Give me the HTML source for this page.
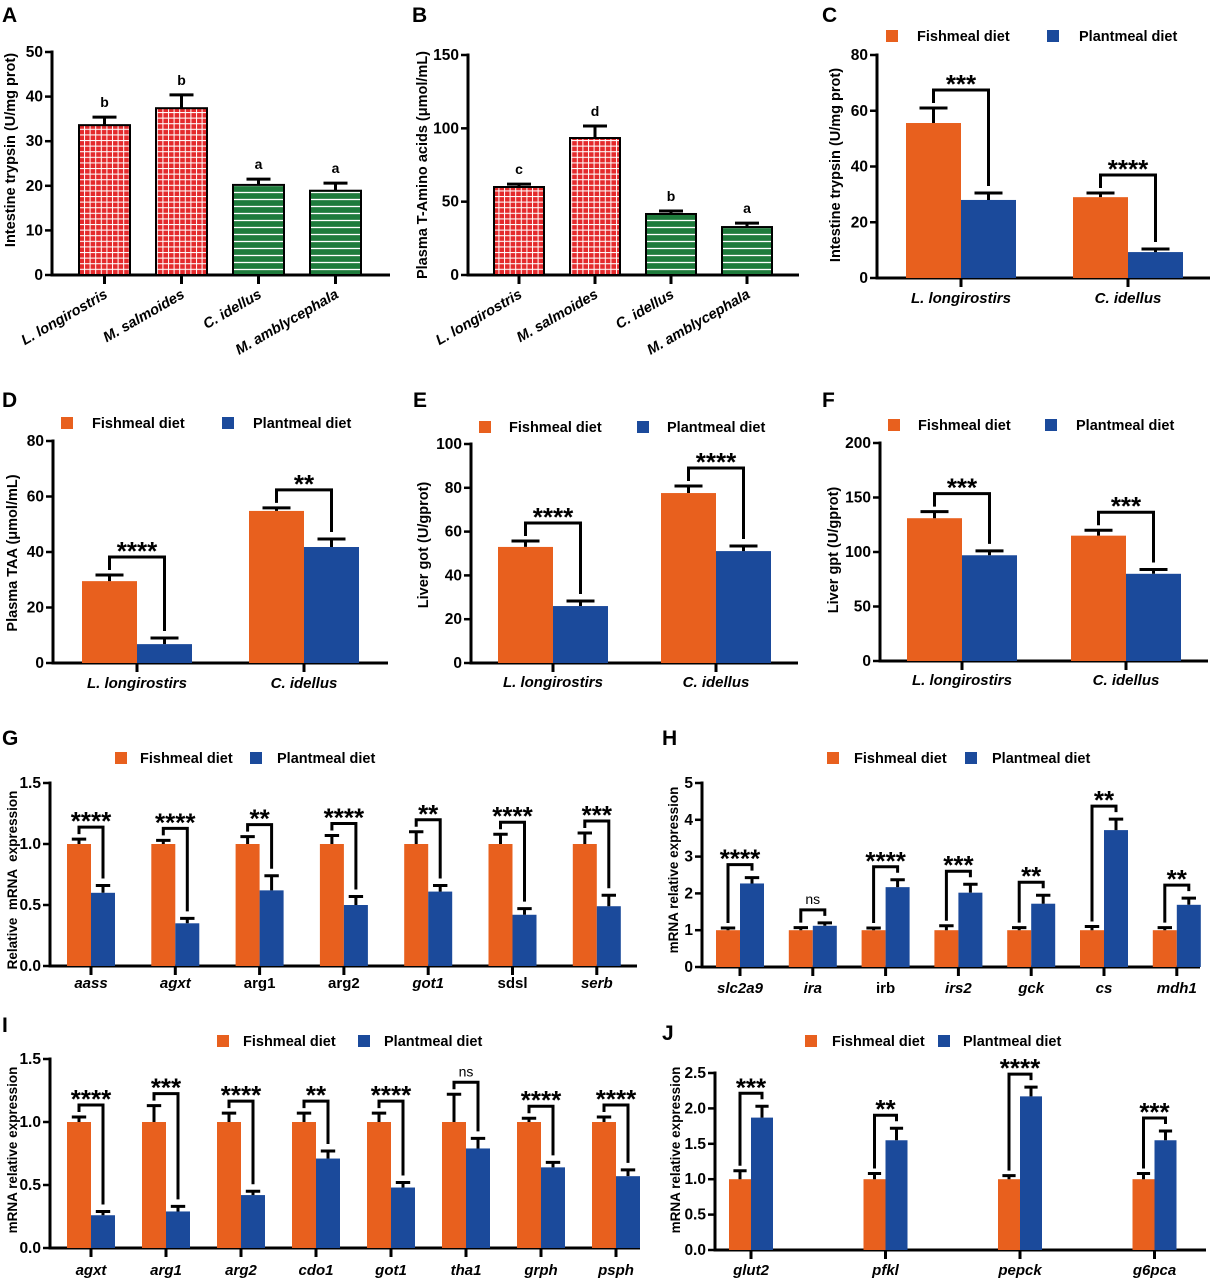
<!DOCTYPE html>
<html><head><meta charset="utf-8"><style>
body{margin:0;background:#fff}
svg text{font-family:"Liberation Sans",Arial,sans-serif;font-weight:bold;fill:#000}
</style></head><body>
<svg id="fig" xmlns="http://www.w3.org/2000/svg" width="1218" height="1280" viewBox="0 0 1218 1280">
<defs>
<pattern id="redgrid" width="5.6" height="5.6" patternUnits="userSpaceOnUse"><rect width="5.6" height="5.6" fill="#e42a2c"/><path d="M0 0.5H5.6M0.5 0V5.6" stroke="#fff" stroke-width="1"/></pattern>
<pattern id="greenline" width="7" height="7" patternUnits="userSpaceOnUse"><rect width="7" height="7" fill="#1e7b3c"/><path d="M0 3.5H7" stroke="#fff" stroke-width="1.3"/></pattern>
</defs>
</svg>
<script>
// ---------- data ----------
const A_categories=["L. longirostris","M. salmoides","C. idellus","M. amblycephala"];
const A_values=[33.6,37.4,20.2,18.9];
const A_errors=[1.8,3.0,1.3,1.7];
const A_letters=["b","b","a","a"];
const A_ticks=["0","10","20","30","40","50"];

const B_categories=["L. longirostris","M. salmoides","C. idellus","M. amblycephala"];
const B_values=[60,93.4,41.6,32.7];
const B_errors=[2,8.2,2,2.7];
const B_letters=["c","d","b","a"];
const B_ticks=["0","50","100","150"];

const C_categories=["L. longirostirs","C. idellus"];
const C_fish=[55.6,29];
const C_fishErr=[5.4,1.5];
const C_plant=[28,9.3];
const C_plantErr=[2.5,1.1];
const C_sig=["***","****"];
const C_ticks=["0","20","40","60","80"];

const D_categories=["L. longirostirs","C. idellus"];
const D_fish=[29.5,54.8];
const D_fishErr=[2.2,1.1];
const D_plant=[6.8,41.8];
const D_plantErr=[2.2,2.9];
const D_sig=["****","**"];
const D_ticks=["0","20","40","60","80"];

const E_categories=["L. longirostirs","C. idellus"];
const E_fish=[53,77.6];
const E_fishErr=[2.7,3.2];
const E_plant=[26,51.1];
const E_plantErr=[2.3,2.3];
const E_sig=["****","****"];
const E_ticks=["0","20","40","60","80","100"];

const F_categories=["L. longirostirs","C. idellus"];
const F_fish=[131,115];
const F_fishErr=[6,5];
const F_plant=[97,80];
const F_plantErr=[4,4];
const F_sig=["***","***"];
const F_ticks=["0","50","100","150","200"];

const G_categories=["aass","agxt","arg1","arg2","got1","sdsl","serb"];
const G_italic=[1,1,0,0,1,0,1];
const G_fish=[1,1,1,1,1,1,1];
const G_fishErr=[0.04,0.03,0.06,0.07,0.10,0.08,0.09];
const G_plant=[0.60,0.35,0.62,0.50,0.61,0.42,0.49];
const G_plantErr=[0.06,0.04,0.12,0.07,0.05,0.05,0.09];
const G_sig=["****","****","**","****","**","****","***"];
const G_ticks=["0.0","0.5","1.0","1.5"];

const H_categories=["slc2a9","ira","irb","irs2","gck","cs","mdh1"];
const H_italic=[1,1,0,1,1,1,1];
const H_fish=[1,1,1,1,1,1,1];
const H_fishErr=[0.06,0.07,0.06,0.12,0.07,0.10,0.07];
const H_plant=[2.27,1.12,2.17,2.02,1.72,3.72,1.69];
const H_plantErr=[0.16,0.08,0.20,0.23,0.23,0.30,0.18];
const H_sig=["****","ns","****","***","**","**","**"];
const H_ticks=["0","1","2","3","4","5"];

const I_categories=["agxt","arg1","arg2","cdo1","got1","tha1","grph","psph"];
const I_italic=[1,1,1,1,1,1,1,1];
const I_fish=[1,1,1,1,1,1,1,1];
const I_fishErr=[0.04,0.13,0.07,0.07,0.07,0.22,0.03,0.04];
const I_plant=[0.26,0.29,0.42,0.71,0.48,0.79,0.64,0.57];
const I_plantErr=[0.03,0.04,0.03,0.06,0.04,0.08,0.04,0.05];
const I_sig=["****","***","****","**","****","ns","****","****"];
const I_ticks=["0.0","0.5","1.0","1.5"];

const J_categories=["glut2","pfkl","pepck","g6pca"];
const J_italic=[1,1,1,1];
const J_fish=[1,1,1,1];
const J_fishErr=[0.12,0.08,0.05,0.08];
const J_plant=[1.87,1.55,2.17,1.55];
const J_plantErr=[0.16,0.17,0.13,0.13];
const J_sig=["***","**","****","***"];
const J_ticks=["0.0","0.5","1.0","1.5","2.0","2.5"];

// ---------- drawing ----------
const NS="http://www.w3.org/2000/svg";
const svg=document.getElementById('fig');
const ORANGE="#e8601e", BLUE="#1b4a9b";
function mk(tag,attrs,parent){const e=document.createElementNS(NS,tag);for(const k in attrs)e.setAttribute(k,attrs[k]);(parent||svg).appendChild(e);return e;}
function txt(s,attrs,parent){const e=mk('text',attrs,parent);e.textContent=s;return e;}

function panel(L,ticks,title,cats){
  const g=mk('g',{});
  
  
  const lab=txt(L.letter,{x:L.lx,y:L.ly,'font-size':21},g);
  
  
  const yMax=parseFloat(ticks[ticks.length-1]);
  const ys=v=>L.y0-(v/yMax)*(L.y0-L.yTop);
  L.ys=ys;
  const ya=mk('line',{x1:L.x0,y1:L.y0+1.5,x2:L.x0,y2:L.yTop-1.5,stroke:'#000','stroke-width':3},g);
  
  
  ticks.forEach(t=>{
    const y=ys(parseFloat(t));
    mk('line',{x1:L.x0-7,y1:y,x2:L.x0,y2:y,stroke:'#000','stroke-width':2.5},g);
    const tl=txt(t,{x:L.x0-9,y:y+5,'font-size':15.5,'text-anchor':'end'},g);
    
    
  });
  const xa=mk('line',{x1:L.x0-1.5,y1:L.y0,x2:L.xEnd,y2:L.y0,stroke:'#000','stroke-width':3},g);
  
  
  const yt=txt(title,{x:0,y:0,'font-size':L.tfs||14.5,'text-anchor':'middle',transform:`translate(${L.tx},${L.ty}) rotate(-90)`,style:'white-space:pre'},g);
  
  
  cats.forEach((c,i)=>{
    const cx=L.c0+L.sp*i;
    mk('line',{x1:cx,y1:L.y0,x2:cx,y2:L.y0+9,stroke:'#000','stroke-width':3},g);
  });
  return g;
}
function legend(L,g){
  const s1=mk('rect',{x:L.leg[0],y:L.legY-6,width:12,height:12,fill:ORANGE},g);
  
  
  const t1=txt('Fishmeal diet',{x:L.leg[1],y:L.legY+5,'font-size':14.5},g);
  
  
  const s2=mk('rect',{x:L.leg[2],y:L.legY-6,width:12,height:12,fill:BLUE},g);
  
  
  const t2=txt('Plantmeal diet',{x:L.leg[3],y:L.legY+5,'font-size':14.5},g);
  
  
}
function errBar(x,yv,ye,hw,g){
  mk('path',{d:`M${x} ${yv}V${ye}M${x-hw} ${ye}H${x+hw}`,stroke:'#000','stroke-width':3,fill:'none'},g);
}
function single(L,cats,vals,errs,letters,ticks,title){
  const g=panel(L,ticks,title,cats);
  cats.forEach((c,i)=>{
    const cx=L.c0+L.sp*i, ys=L.ys;
    const top=ys(vals[i]);
    const b=mk('rect',{x:cx-L.bw/2,y:top,width:L.bw,height:L.y0-top,fill:i<2?'url(#redgrid)':'url(#greenline)',stroke:'#000','stroke-width':2},g);
    
    
    const et=ys(vals[i]+errs[i]);
    errBar(cx,top,et,12,g);
    const lt=txt(letters[i],{x:cx,y:et-10,'font-size':14,'text-anchor':'middle'},g);
    
    
    const xl=txt(c,{x:0,y:0,'font-size':14.5,'text-anchor':'end','font-style':'italic',transform:`translate(${cx+4},${L.y0+22}) rotate(-30)`},g);
    
    
  });
}
function grouped(L,cats,fish,fishErr,plant,plantErr,sig,ticks,title,italic){
  const g=panel(L,ticks,title,cats);
  legend(L,g);
  const hw=Math.min(14,L.bw*0.3);
  cats.forEach((c,i)=>{
    const cx=L.c0+L.sp*i, ys=L.ys;
    const fx=cx-L.bw/2, px=cx+L.bw/2;
    const ft=ys(fish[i]), pt=ys(plant[i]);
    const b1=mk('rect',{x:cx-L.bw,y:ft,width:L.bw,height:L.y0-ft,fill:ORANGE},g);
    
    
    const b2=mk('rect',{x:cx,y:pt,width:L.bw,height:L.y0-pt,fill:BLUE},g);
    
    
    const fe=ys(fish[i]+fishErr[i]), pe=ys(plant[i]+plantErr[i]);
    errBar(fx,ft,fe,hw,g);
    errBar(px,pt,pe,hw,g);
    const bt=Math.min(fe,pe)-L.gap;
    const br=mk('path',{d:`M${fx} ${fe-5}V${bt}H${px}V${pe-7}`,stroke:'#000','stroke-width':3,fill:'none'},g);
    
    
    const ns=sig[i]==='ns';
    const st=txt(sig[i],{x:(fx+px)/2,y:ns?bt-6:bt+3,'font-size':ns?14:26,'text-anchor':'middle'},g);
    if(ns)st.setAttribute('style','font-weight:normal');
    
    
    const it=italic?italic[i]:1;
    const xl=txt(c,{x:cx,y:L.xly,'font-size':15,'text-anchor':'middle','font-style':it?'italic':'normal'},g);
    
    
  });
}

single({letter:'A',lx:2,ly:22,x0:52,y0:275,yTop:52,xEnd:390,c0:104.5,sp:77,bw:51,tx:15,ty:150},
  A_categories,A_values,A_errors,A_letters,A_ticks,'Intestine trypsin (U/mg prot)');
single({letter:'B',lx:412,ly:22,x0:468,y0:275,yTop:55,xEnd:799,c0:519,sp:76,bw:50,tx:427,ty:165},
  B_categories,B_values,B_errors,B_letters,B_ticks,'Plasma T-Amino acids (μmol/mL)');
grouped({letter:'C',lx:822,ly:22,x0:877,y0:278,yTop:55,xEnd:1210,c0:961,sp:167,bw:55,tx:840,ty:165,gap:18,xly:303,leg:[886,917,1047,1079],legY:36},
  C_categories,C_fish,C_fishErr,C_plant,C_plantErr,C_sig,C_ticks,'Intestine trypsin (U/mg prot)');
grouped({letter:'D',lx:2,ly:407,x0:53,y0:663,yTop:441,xEnd:388,c0:137,sp:167,bw:55,tx:17,ty:553,gap:18,xly:688,leg:[61,92,222,253],legY:423},
  D_categories,D_fish,D_fishErr,D_plant,D_plantErr,D_sig,D_ticks,'Plasma TAA (μmol/mL)');
grouped({letter:'E',lx:413,ly:407,x0:471,y0:663,yTop:444,xEnd:798,c0:553,sp:163,bw:55,tx:428,ty:545,gap:18,xly:687,leg:[479,509,637,667],legY:427},
  E_categories,E_fish,E_fishErr,E_plant,E_plantErr,E_sig,E_ticks,'Liver got (U/gprot)');
grouped({letter:'F',lx:822,ly:407,x0:880,y0:661,yTop:443,xEnd:1208,c0:962,sp:164,bw:55,tx:838,ty:550,gap:18,xly:685,leg:[888,918,1045,1076],legY:425},
  F_categories,F_fish,F_fishErr,F_plant,F_plantErr,F_sig,F_ticks,'Liver gpt (U/gprot)');
grouped({letter:'G',lx:2,ly:745,x0:50,y0:966,yTop:783,xEnd:637,c0:91,sp:84.3,bw:24,tx:17,ty:880,gap:12,xly:988,leg:[115,140,250,277],legY:758,tfs:13.5},
  G_categories,G_fish,G_fishErr,G_plant,G_plantErr,G_sig,G_ticks,'Relative  mRNA  expression',G_italic);
grouped({letter:'H',lx:662,ly:745,x0:702,y0:967,yTop:783,xEnd:1200,c0:740,sp:72.8,bw:24,tx:678,ty:870,gap:13,xly:993,leg:[827,854,965,992],legY:758,tfs:13.5},
  H_categories,H_fish,H_fishErr,H_plant,H_plantErr,H_sig,H_ticks,'mRNA relative expression',H_italic);
grouped({letter:'I',lx:2,ly:1032,x0:50,y0:1248,yTop:1059,xEnd:640,c0:91,sp:75,bw:24,tx:17,ty:1150,gap:12,xly:1275,leg:[217,243,358,384],legY:1041,tfs:13.5},
  I_categories,I_fish,I_fishErr,I_plant,I_plantErr,I_sig,I_ticks,'mRNA relative expression',I_italic);
grouped({letter:'J',lx:662,ly:1040,x0:715,y0:1250,yTop:1073,xEnd:1206,c0:751,sp:134.5,bw:22,tx:680,ty:1150,gap:13,xly:1275,leg:[805,832,938,963],legY:1041,tfs:13.5},
  J_categories,J_fish,J_fishErr,J_plant,J_plantErr,J_sig,J_ticks,'mRNA relative expression',J_italic);
</script>
</body></html>
